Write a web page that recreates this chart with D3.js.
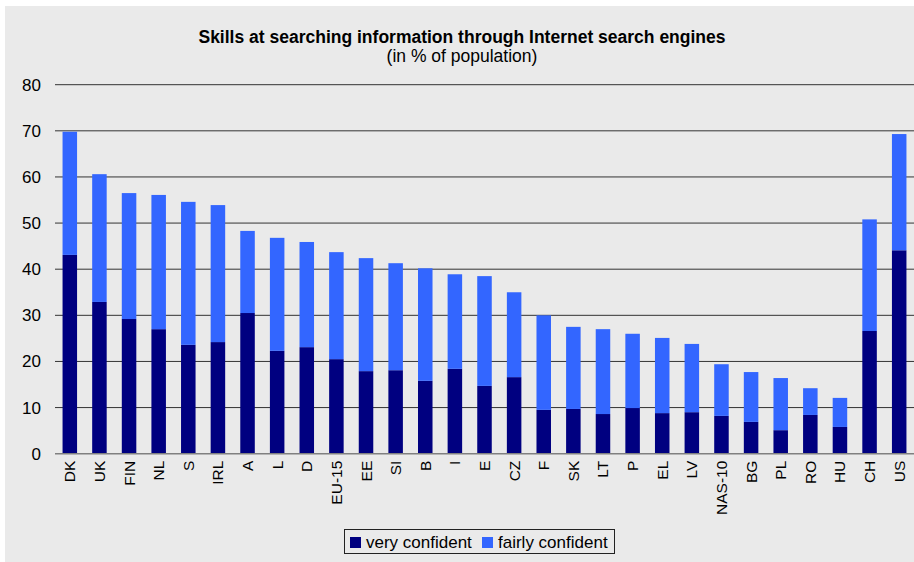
<!DOCTYPE html>
<html>
<head>
<meta charset="utf-8">
<script src="https://cdn.jsdelivr.net/npm/d3@7"></script>
<style>
  html, body { margin: 0; padding: 0; background: #ffffff; }
  svg { display: block; font-family: "Liberation Sans", Arial, sans-serif; }
</style>
</head>
<body>
<svg id="chart" width="914" height="562"></svg>
<script>
// Countries / country groups along the x axis
const categories = ["DK", "UK", "FIN", "NL", "S", "IRL", "A", "L", "D", "EU-15", "EE", "SI", "B", "I", "E",
  "CZ", "F", "SK", "LT", "P", "EL", "LV", "NAS-10", "BG", "PL", "RO", "HU", "CH", "US"];

// Share of population "very confident" (%)
const veryConfident = [43.1, 32.9, 29.2, 27.0, 23.6, 24.2, 30.5, 22.3, 23.1, 20.5, 17.9, 18.1, 15.8, 18.4, 14.7,
  16.6, 9.5, 9.7, 8.6, 9.9, 8.8, 9.0, 8.2, 6.9, 5.1, 8.4, 5.8, 26.6, 44.1];

// Share of population "fairly confident" (%), stacked on top
const fairlyConfident = [26.7, 27.7, 27.3, 29.1, 31.0, 29.7, 17.8, 24.5, 22.8, 23.2, 24.5, 23.2, 24.4, 20.5, 23.8,
  18.4, 20.5, 17.8, 18.4, 16.1, 16.3, 14.8, 11.2, 10.8, 11.3, 5.8, 6.3, 24.2, 25.2];

const seriesNames = ["very confident", "fairly confident"];
const seriesColors = ["#000080", "#3366ff"];
const yTicks = [0, 10, 20, 30, 40, 50, 60, 70, 80];

const svg = d3.select("#chart");
const W = 914, H = 562;
const plot = { left: 55, right: 914, top: 84.7, bottom: 453.7 };

// Panel background
svg.append("rect")
  .attr("x", 5).attr("y", 6).attr("width", W - 5).attr("height", H - 6)
  .attr("fill", "#eaeaea");

const x = d3.scaleBand()
  .domain(categories)
  .range([plot.left, plot.right])
  .paddingInner(0.51)
  .paddingOuter(0.255);

const y = d3.scaleLinear()
  .domain([0, 80])
  .range([plot.bottom, plot.top]);

// Horizontal gridlines
svg.append("g")
  .selectAll("line")
  .data(yTicks.filter(d => d > 0))
  .join("line")
  .attr("x1", plot.left).attr("x2", plot.right)
  .attr("y1", d => y(d)).attr("y2", d => y(d))
  .attr("stroke", "#333333").attr("stroke-width", 1);

// Y axis labels
svg.append("g")
  .selectAll("text")
  .data(yTicks)
  .join("text")
  .attr("x", 41)
  .attr("y", d => y(d))
  .attr("dy", "0.35em")
  .attr("text-anchor", "end")
  .attr("font-size", 17)
  .attr("fill", "#000")
  .text(d => d);

// Stacked bars
const rows = categories.map((c, i) => ({ cat: c, very: veryConfident[i], fairly: fairlyConfident[i] }));
const stacked = d3.stack().keys(["very", "fairly"])(rows);

svg.append("g")
  .selectAll("g")
  .data(stacked)
  .join("g")
  .attr("fill", (d, i) => seriesColors[i])
  .selectAll("rect")
  .data(d => d)
  .join("rect")
  .attr("x", d => x(d.data.cat))
  .attr("width", x.bandwidth())
  .attr("y", d => y(d[1]))
  .attr("height", d => y(d[0]) - y(d[1]));

// Category axis baseline
svg.append("line")
  .attr("x1", plot.left).attr("x2", plot.right)
  .attr("y1", y(0)).attr("y2", y(0))
  .attr("stroke", "#808080").attr("stroke-width", 1.5);

// Rotated category labels
svg.append("g")
  .selectAll("text")
  .data(categories)
  .join("text")
  .attr("transform", d => `translate(${x(d) + x.bandwidth() / 2 + 5.5},${y(0) + 7}) rotate(-90)`)
  .attr("text-anchor", "end")
  .attr("font-size", 15.5)
  .attr("fill", "#000")
  .text(d => d);

// Title
svg.append("text")
  .attr("x", 462).attr("y", 43)
  .attr("text-anchor", "middle")
  .attr("font-size", 17.5)
  .attr("font-weight", "bold")
  .text("Skills at searching information through Internet search engines");

svg.append("text")
  .attr("x", 462).attr("y", 62)
  .attr("text-anchor", "middle")
  .attr("font-size", 17.5)
  .text("(in % of population)");

// Legend
const legend = svg.append("g");
legend.append("rect")
  .attr("x", 344.5).attr("y", 529.5).attr("width", 270).attr("height", 24)
  .attr("fill", "#eaeaea").attr("stroke", "#222").attr("stroke-width", 1);

const legendX = [350, 482];
seriesNames.forEach((name, i) => {
  legend.append("rect")
    .attr("x", legendX[i]).attr("y", 537).attr("width", 11).attr("height", 11)
    .attr("fill", seriesColors[i]);
  legend.append("text")
    .attr("x", legendX[i] + 16).attr("y", 548)
    .attr("font-size", 17)
    .text(name);
});
</script>
</body>
</html>
